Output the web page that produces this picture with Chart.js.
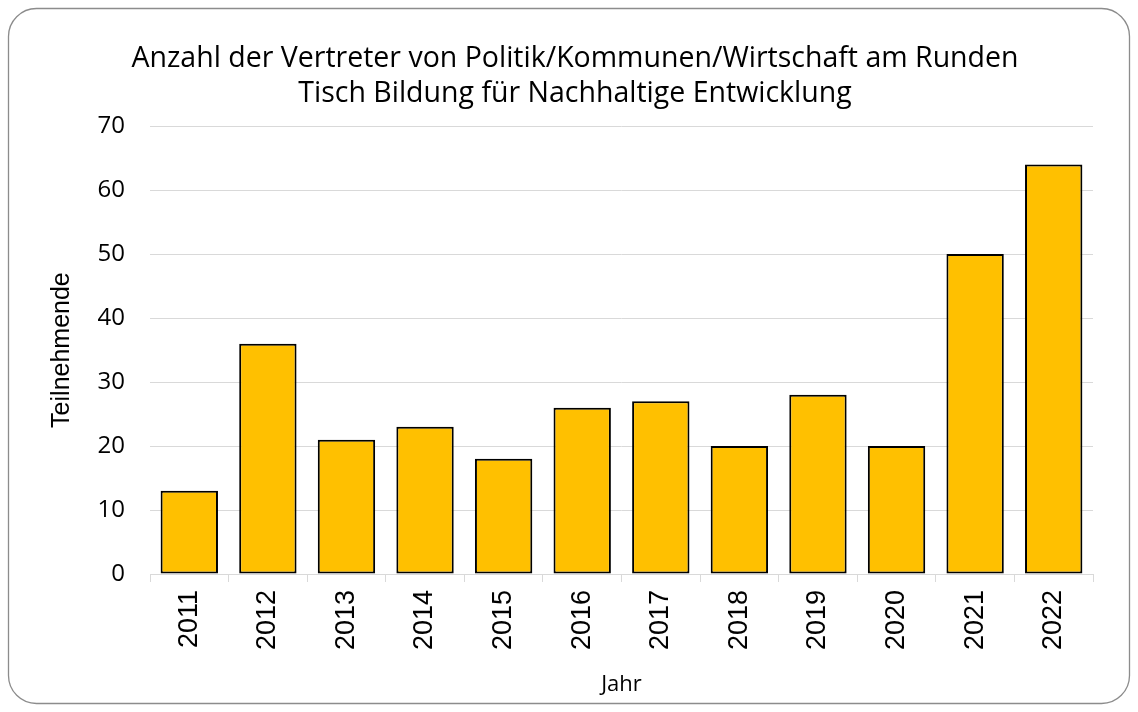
<!DOCTYPE html>
<html>
<head>
<meta charset="utf-8">
<script src="https://cdn.jsdelivr.net/npm/chart.js@4"></script>
<style>
  html, body { margin: 0; padding: 0; background: #fff; }
  #wrap { width: 1138px; height: 712px; }
</style>
</head>
<body>
<div id="wrap"><canvas id="grafico" width="1138" height="712"></canvas></div>
<script>
  // Dati del grafico
  var anni = ['2011', '2012', '2013', '2014', '2015', '2016', '2017', '2018', '2019', '2020', '2021', '2022'];
  var teilnehmende = [13, 36, 21, 23, 18, 26, 27, 20, 28, 20, 50, 64];
  var titolo = ['Anzahl der Vertreter von Politik/Kommunen/Wirtschaft am Runden', 'Tisch Bildung für Nachhaltige Entwicklung'];

  var font = '"Open Sans", "Noto Sans", sans-serif';
  var fontArial = '"Liberation Sans", Arial, sans-serif';

  // Cornice arrotondata attorno al grafico
  var cornice = {
    id: 'cornice',
    beforeDraw: function (chart) {
      var ctx = chart.ctx;
      ctx.save();
      ctx.fillStyle = '#ffffff';
      ctx.fillRect(0, 0, chart.width, chart.height);
      ctx.beginPath();
      ctx.roundRect(8.5, 8.5, chart.width - 17, chart.height - 17, 28);
      ctx.strokeStyle = '#8c8c8c';
      ctx.lineWidth = 1.3;
      ctx.stroke();
      ctx.restore();
    }
  };

  var canvas = document.getElementById('grafico').getContext('2d');

  var grafico = new Chart(canvas, {
    type: 'bar',
    data: {
      labels: anni,
      datasets: [{
        data: teilnehmende,
        backgroundColor: '#FFC000',
        borderColor: '#000000',
        borderWidth: 2,
        borderSkipped: false,
        categoryPercentage: 1,
        barPercentage: 0.73
      }]
    },
    options: {
      responsive: false,
      animation: false,
      layout: { padding: { left: 57, right: 45, top: 41, bottom: 12 } },
      plugins: {
        legend: { display: false },
        tooltip: { enabled: false },
        title: {
          display: true,
          text: titolo,
          color: '#000',
          font: { family: font, size: 28.5, weight: 'normal', lineHeight: 1.23 },
          padding: { top: 0, bottom: 15 }
        }
      },
      scales: {
        x: {
          grid: {
            offset: true,
            drawOnChartArea: false,
            color: '#d9d9d9',
            tickLength: 8
          },
          border: { color: '#d9d9d9', width: 1 },
          ticks: {
            color: '#000',
            minRotation: 90,
            maxRotation: 90,
            padding: 8,
            font: { family: fontArial, size: 27 }
          },
          title: {
            display: true,
            text: 'Jahr',
            color: '#000',
            font: { family: font, size: 22 },
            padding: { top: 0, bottom: 2 }
          },
          afterFit: function (scale) { scale.height = 126; }
        },
        y: {
          min: 0,
          max: 70,
          ticks: {
            stepSize: 10,
            color: '#000',
            padding: 25,
            font: { family: font, size: 24 }
          },
          grid: { color: '#d9d9d9', drawTicks: false },
          border: { display: false },
          title: {
            display: true,
            text: 'Teilnehmende',
            color: '#000',
            font: { family: fontArial, size: 25 },
            padding: { top: -10, bottom: 0 }
          },
          afterFit: function (scale) { scale.width = 93; }
        }
      }
    },
    plugins: [cornice]
  });
</script>
</body>
</html>
